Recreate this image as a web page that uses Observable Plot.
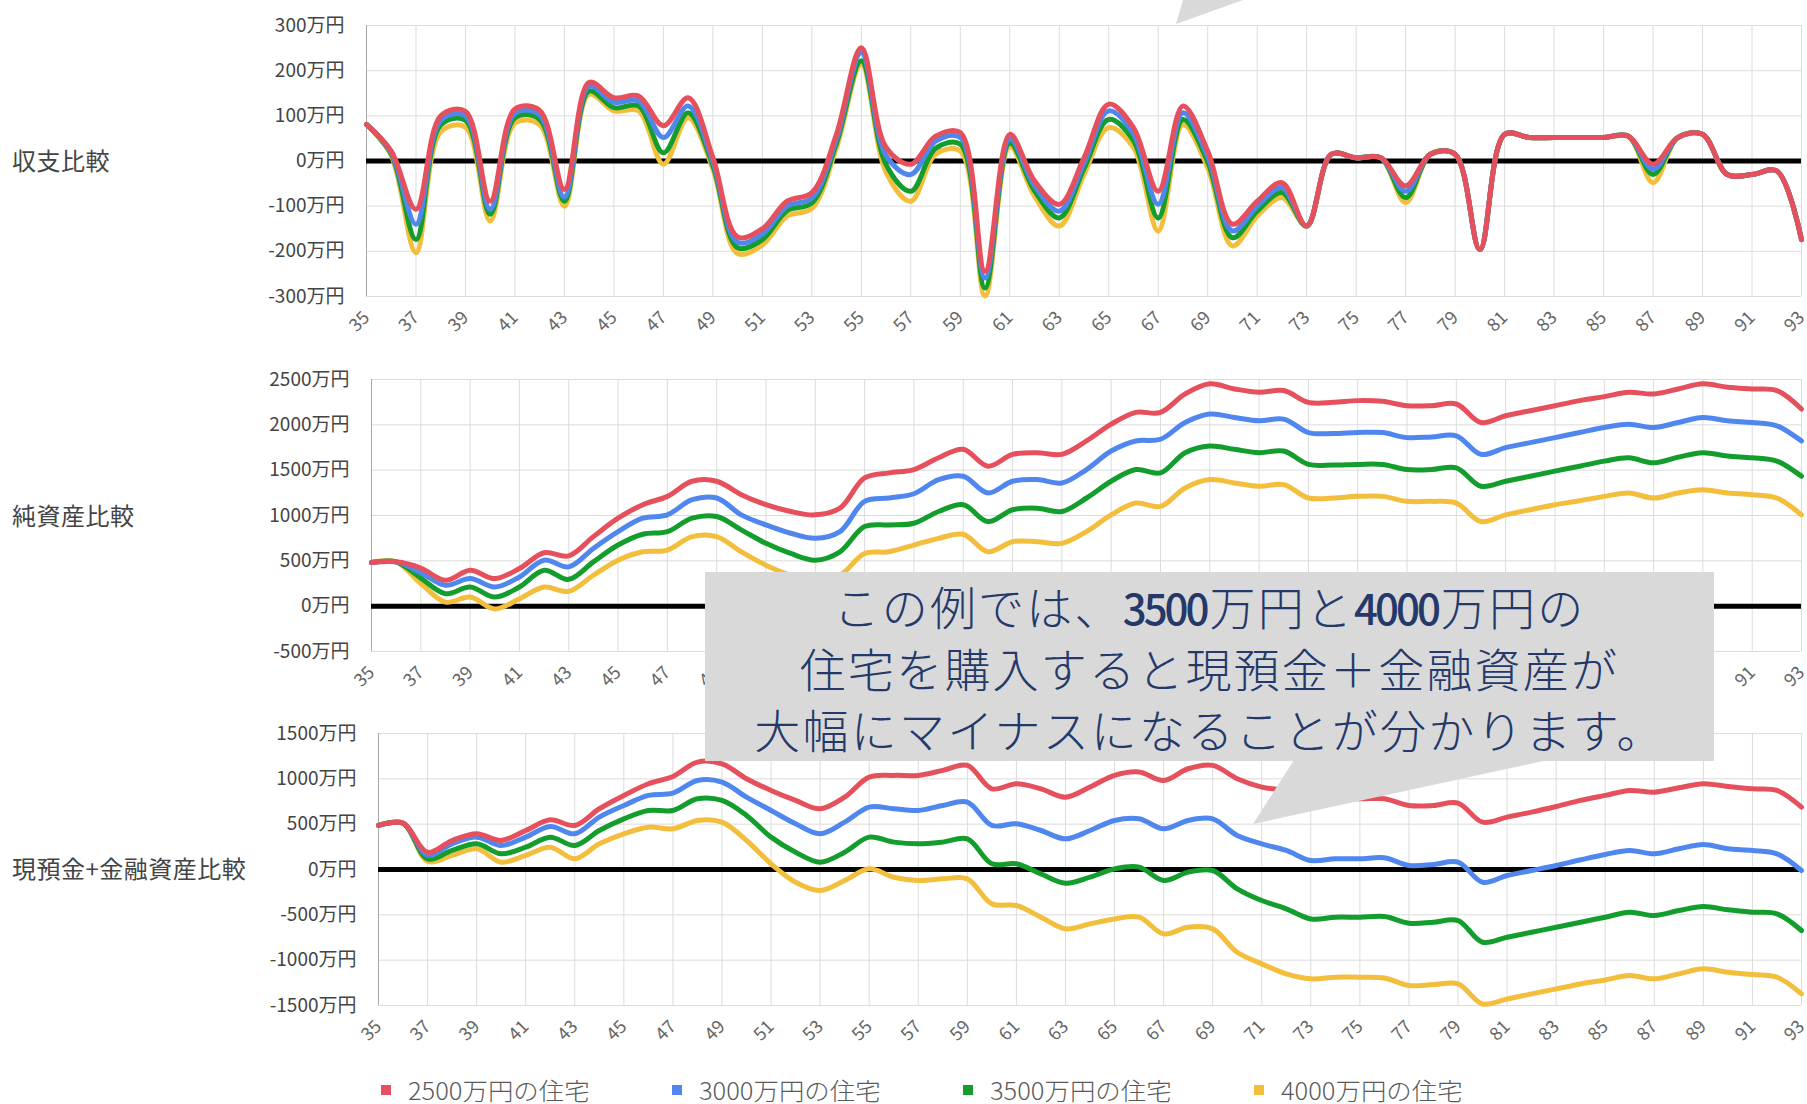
<!DOCTYPE html>
<html>
<head>
<meta charset="utf-8">
<script src="https://cdn.jsdelivr.net/npm/d3@7"></script>
<script src="https://cdn.jsdelivr.net/npm/@observablehq/plot@0.6"></script>
<style>
  html, body { margin: 0; padding: 0; background: #fff; }
  body { width: 1807px; height: 1104px; overflow: hidden; position: relative;
         font-family: "Noto Sans CJK JP", "Noto Sans", sans-serif; }
  .panel { position: absolute; left: 0; }
  .rowlabel { position: absolute; left: 12px; font-size: 24px; letter-spacing: 0.5px; color: #444; line-height: 1;
              transform: translateY(-50%); white-space: nowrap; }
  #legend { position: absolute; left: 381px; top: 1090px; display: flex; transform: translateY(-50%); }
  .item { width: 291px; display: flex; align-items: center; }
  .sw { width: 10px; height: 10px; margin-right: 17px; flex: none; }
  .lt { font-size: 24px; font-weight: 300; color: #5a5a5a; line-height: 1; display: inline-block; transform: scaleX(1.06); transform-origin: left center; white-space: nowrap; }
  #callout { position: absolute; left: 705px; top: 572px; width: 1009px; height: 189px; background: #d9d9d9;
             color: #24396a; font-size: 46px; font-weight: 300; letter-spacing: 2.2px; line-height: 61px; text-align: center; padding-top: 3px; box-sizing: border-box; }
  #callout .num { font-weight: 500; letter-spacing: -3px; font-size: 42px; margin-right: 3px; }
  #tails { position: absolute; left: 0; top: 0; }
</style>
</head>
<body>
<div id="p1" class="panel" style="top:0px"></div>
<div id="p2" class="panel" style="top:345px"></div>
<div id="p3" class="panel" style="top:705px"></div>

<div class="rowlabel" style="top:160px">収支比較</div>
<div class="rowlabel" style="top:515px">純資産比較</div>
<div class="rowlabel" style="top:868px">現預金+金融資産比較</div>

<div id="legend"></div>

<div id="callout">この例では、<span class="num">3500</span>万円と<span class="num">4000</span>万円の<br>住宅を購入すると現預金＋金融資産が<br>大幅にマイナスになることが分かります。</div>
<svg id="tails" width="1807" height="1104">
  <polygon points="1176,24 1183,0 1243,0" fill="#d9d9d9"/>
  <polygon points="1294,760 1548,760 1253,824" fill="#d9d9d9"/>
</svg>

<script>
// ---- categories / tick labels ----
const ages = [35,36,37,38,39,40,41,42,43,44,45,46,47,48,49,50,51,52,53,54,55,56,57,58,59,60,61,62,63,64,
              65,66,67,68,69,70,71,72,73,74,75,76,77,78,79,80,81,82,83,84,85,86,87,88,89,90,91,92,93];
const xTickLabels = [35,37,39,41,43,45,47,49,51,53,55,57,59,61,63,65,67,69,71,73,75,77,79,81,83,85,87,89,91,93];
const seriesNames = ["2500万円の住宅","3000万円の住宅","3500万円の住宅","4000万円の住宅"];
const seriesColors = ["#e6505d","#4f87ef","#139d2c","#f2be3c"];

// ---- 収支比較 (万円) ----
const balance2500 = [81,22,-107,100,110,-89,115,112,-63,174,140,144,78,140,8,-168,-150,-89,-70,60,
  251,30,-7,55,63,-244,59,-44,-96,7,126,74,-67,122,22,-140,-89,-48,-144,15,
  7,7,-55,15,15,-196,59,52,52,52,52,55,-7,52,59,-30,-30,-22,-174];
const balance3000 = [81,19,-140,90,100,-107,106,102,-80,166,130,133,52,122,-2,-180,-162,-100,-82,50,
  240,12,-30,44,52,-259,49,-55,-111,-5,111,60,-96,107,10,-155,-100,-59,-144,15,
  7,7,-67,15,15,-196,59,52,52,52,52,55,-18,52,59,-30,-30,-22,-174];
const balance3500 = [81,16,-174,80,90,-118,96,92,-89,155,118,122,18,107,-10,-192,-174,-110,-93,40,
  222,-8,-67,28,37,-281,40,-66,-126,-17,92,45,-126,92,-2,-170,-111,-70,-144,15,
  7,7,-81,15,15,-196,59,52,52,52,52,55,-30,52,59,-30,-30,-22,-174];
const balance4000 = [81,12,-203,65,75,-133,84,80,-100,148,111,111,-7,96,-18,-205,-186,-122,-105,30,
  214,-25,-89,15,22,-299,32,-78,-144,-30,74,30,-155,81,-15,-188,-122,-81,-144,15,
  7,7,-92,15,15,-196,59,52,52,52,52,55,-48,52,59,-30,-30,-22,-174];

// ---- 純資産比較 (万円) ----
const net2500 = [481,489,420,285,396,304,415,589,555,767,970,1119,1211,1378,1378,1230,1119,1044,1007,1081,
  1415,1470,1507,1637,1730,1544,1674,1693,1674,1822,2007,2137,2137,2341,2452,2396,2359,2378,2248,2248,
  2267,2259,2211,2211,2230,2026,2100,2156,2211,2267,2311,2359,2341,2396,2452,2415,2396,2378,2174];
const net3000 = [481,489,370,230,304,211,322,507,433,637,822,970,1007,1174,1193,1007,896,804,748,822,
  1156,1193,1240,1396,1433,1248,1378,1396,1359,1507,1711,1822,1841,2026,2119,2081,2044,2063,1915,1904,
  1915,1915,1859,1867,1878,1674,1748,1804,1859,1915,1970,2007,1970,2026,2081,2044,2026,1989,1822];
const net3500 = [481,489,310,137,211,100,211,396,296,489,674,793,822,970,989,841,693,581,507,600,
  878,896,915,1044,1119,933,1063,1081,1044,1193,1378,1507,1470,1693,1767,1730,1693,1711,1563,1556,
  1563,1563,1507,1507,1526,1322,1378,1433,1489,1544,1600,1637,1581,1644,1693,1656,1637,1600,1433];
const net4000 = [481,489,250,44,100,-30,81,211,163,341,507,600,619,767,767,600,452,341,280,341,
  581,600,674,748,793,600,711,711,693,822,1007,1137,1100,1304,1396,1359,1322,1341,1193,1193,
  1211,1211,1156,1156,1137,933,1007,1063,1119,1163,1211,1248,1193,1248,1285,1248,1230,1193,1007];

// ---- 現預金+金融資産比較 (万円) ----
const cash2500 = [486,511,190,320,394,320,430,548,486,670,817,946,1026,1185,1166,1001,872,762,670,798,
  1019,1038,1038,1093,1148,890,946,890,798,909,1038,1075,982,1111,1148,1001,909,872,817,798,
  780,780,706,706,732,522,578,633,695,762,817,872,853,901,946,916,890,872,688];
const cash3000 = [486,511,160,283,357,265,357,475,394,578,706,817,843,982,964,798,651,504,394,522,
  688,670,651,706,743,486,504,430,338,430,541,559,449,541,559,375,283,210,99,118,
  118,129,44,55,81,-140,-66,-11,44,107,166,210,173,228,276,228,210,173,-11];
const cash3500 = [486,511,118,210,283,173,246,357,265,430,559,651,651,780,762,596,357,191,81,191,
  357,302,283,302,338,63,63,-48,-151,-85,7,26,-121,-29,-11,-213,-342,-434,-545,-526,
  -526,-519,-592,-581,-563,-802,-747,-692,-637,-581,-526,-471,-508,-453,-408,-445,-471,-489,-673];
const cash4000 = [486,511,92,155,228,81,155,246,118,283,394,467,449,541,522,320,63,-140,-232,-121,
  7,-85,-121,-103,-103,-379,-397,-526,-655,-600,-545,-526,-710,-636,-655,-913,-1041,-1151,-1206,-1188,
  -1188,-1196,-1280,-1269,-1261,-1483,-1428,-1372,-1317,-1262,-1218,-1170,-1206,-1151,-1096,-1133,-1159,-1188,-1372];

const p1Ticks = [-300,-200,-100,0,100,200,300];
const p2Ticks = [-500,0,500,1000,1500,2000,2500];
const p3Ticks = [-1500,-1000,-500,0,500,1000,1500];

function toRows(seriesArrays) {
  const rows = [];
  // draw order: 4000 first, 2500 last (on top)
  for (let s = seriesArrays.length - 1; s >= 0; s--) {
    seriesArrays[s].forEach((v, i) => rows.push({age: ages[i], value: v, series: seriesNames[s]}));
  }
  return rows;
}

function makePanel(cfg) {
  const rows = toRows(cfg.series);
  return Plot.plot({
    width: 1807,
    height: cfg.height,
    marginTop: cfg.marginTop,
    marginBottom: cfg.marginBottom,
    marginLeft: cfg.marginLeft,
    marginRight: 6,
    style: {fontFamily: '"Noto Sans CJK JP", "Noto Sans", sans-serif', background: "transparent", color: "#444", overflow: "visible"},
    x: {domain: [35, 93], label: null},
    y: {domain: cfg.domain, label: null},
    color: {domain: seriesNames, range: seriesColors},
    marks: [
      Plot.gridX(xTickLabels, {stroke: "#dcdcdc", strokeOpacity: 1, strokeWidth: 1}),
      Plot.gridY(cfg.ticks, {stroke: "#dcdcdc", strokeOpacity: 1, strokeWidth: 1}),
      Plot.ruleX([35], {stroke: "#a8a8a8", strokeWidth: 1}),
      Plot.ruleY([0], {stroke: "#000", strokeWidth: 5}),
      Plot.line(rows, {x: "age", y: "value", z: "series", stroke: "series", strokeWidth: 5,
                       curve: "catmull-rom", strokeLinejoin: "round", strokeLinecap: "round"}),
      Plot.axisY(cfg.ticks, {tickSize: 0, tickPadding: 22, fontSize: 19, fill: "#444", label: null,
                             tickFormat: d => `${d}万円`}),
      Plot.axisX(xTickLabels, {tickSize: 0, tickPadding: 18, tickRotate: -45, fontSize: 18, fill: "#666", label: null,
                               tickFormat: d => String(d)})
    ]
  });
}

document.getElementById("p1").append(makePanel({
  series: [balance2500, balance3000, balance3500, balance4000],
  domain: [-300, 300], ticks: p1Ticks, height: 345, marginTop: 25, marginBottom: 49, marginLeft: 366
}));
document.getElementById("p2").append(makePanel({
  series: [net2500, net3000, net3500, net4000],
  domain: [-500, 2500], ticks: p2Ticks, height: 360, marginTop: 34, marginBottom: 54, marginLeft: 371
}));
document.getElementById("p3").append(makePanel({
  series: [cash2500, cash3000, cash3500, cash4000],
  domain: [-1500, 1500], ticks: p3Ticks, height: 345, marginTop: 28, marginBottom: 45, marginLeft: 378
}));

const legend = document.getElementById("legend");
seriesNames.forEach((name, i) => {
  const item = document.createElement("div");
  item.className = "item";
  const sw = document.createElement("span");
  sw.className = "sw";
  sw.style.background = seriesColors[i];
  const t = document.createElement("span");
  t.className = "lt";
  t.textContent = name;
  item.append(sw, t);
  legend.append(item);
});
</script>
</body>
</html>
